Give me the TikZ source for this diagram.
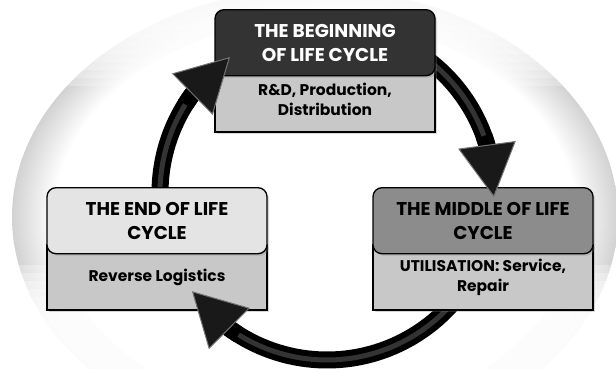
\documentclass[tikz,border=0pt]{standalone}
\usepackage{fontspec}
\setmainfont{Poppins}
\usetikzlibrary{positioning,arrows.meta,bending,shadows}

\definecolor{headdark}{HTML}{333333}
\definecolor{headlight}{HTML}{E4E4E4}
\definecolor{headmid}{HTML}{8C8C8C}
\definecolor{bodygray}{HTML}{C8C8C8}
\definecolor{edgegray}{HTML}{D2D2D2}

\pgfdeclareradialshading{glow}{\pgfpoint{0bp}{0bp}}{color(0bp)=(white); color(21.5bp)=(white); color(25bp)=(edgegray); color(50bp)=(edgegray)}

\tikzset{
  cyclehead/.style={draw, line width=1.3pt, rounded corners=9pt, minimum width=220pt,
    minimum height=66pt, inner sep=0pt, align=center,
    font=\bfseries\fontsize{18.5}{24}\selectfont,
    drop shadow={shadow xshift=2pt, shadow yshift=-2pt, opacity=0.3}},
  cyclebody/.style={draw, line width=1.3pt, fill=bodygray, minimum width=220pt,
    minimum height=65pt, inner sep=0pt, align=center,
    font=\bfseries\fontsize{15.5}{20}\selectfont,
    drop shadow={shadow xshift=2pt, shadow yshift=-2pt, opacity=0.3}},
  ring/.style={line width=17pt, black},
  ringshine/.style={line width=5pt, black!80},
  ringtip/.style={line width=17pt, black,
    -{Triangle[width=58pt, length=53pt, line width=1pt, fill=black!90, color=black!55]}}
}

\begin{document}
\begin{tikzpicture}[x=1pt, y=-1pt]
  \useasboundingbox (0,0) rectangle (616,369);
  % Fondo
  \shade[shading=glow] (315,217) ellipse [x radius=303, y radius=228];
  % fundido arriba y abajo
  \foreach \k in {0,...,7}
    \fill[white, opacity=0.25] (0,0) rectangle (616,30+8*\k);
  \foreach \k in {0,...,7}
    \fill[white, opacity=0.3] (0,265+8*\k) rectangle (616,369);
  % Centro del ciclo
  \coordinate (hub) at (327,193);
  % Anillo (debajo de las cajas)
  \draw[ring] (hub) ++(-60:167) arc[start angle=-60, end angle=-16, radius=167];
  \draw[ring] (hub) ++(35:167) arc[start angle=35, end angle=127, radius=167];
  \draw[ring] (hub) ++(175:167) arc[start angle=175, end angle=217, radius=167];
  \draw[ringshine] (hub) ++(-60:167) arc[start angle=-60, end angle=-16, radius=167];
  \draw[ringshine] (hub) ++(35:167) arc[start angle=35, end angle=127, radius=167];
  \draw[ringshine] (hub) ++(175:167) arc[start angle=175, end angle=217, radius=167];
  % Inicio del ciclo
  \node[cyclebody] (beginbody) at (325,99.5) {R\&D, Production,\\Distribution};
  \node[cyclehead, fill=headdark, text=white, above=-10pt of beginbody] (beginhead) {THE BEGINNING\\OF LIFE CYCLE};
  % Mitad del ciclo
  \node[cyclebody] (middlebody) at (483,277.5) {UTILISATION: Service,\\Repair};
  \node[cyclehead, fill=headmid, above=-10pt of middlebody] (middlehead) {THE MIDDLE OF LIFE\\CYCLE};
  % Fin del ciclo
  \node[cyclebody] (endbody) at (157,277.5) {Reverse Logistics};
  \node[cyclehead, fill=headlight, above=-10pt of endbody] (endhead) {THE END OF LIFE\\CYCLE};
  % Puntas de flecha (encima de las cajas)
  \draw[ringtip] (hub) ++(-20:167) arc[start angle=-20, end angle=1.5, radius=167];
  \draw[ringtip] (hub) ++(122:167) arc[start angle=122, end angle=144, radius=167];
  \draw[ringtip] (hub) ++(212:167) arc[start angle=212, end angle=234.5, radius=167];
\end{tikzpicture}
\end{document}
